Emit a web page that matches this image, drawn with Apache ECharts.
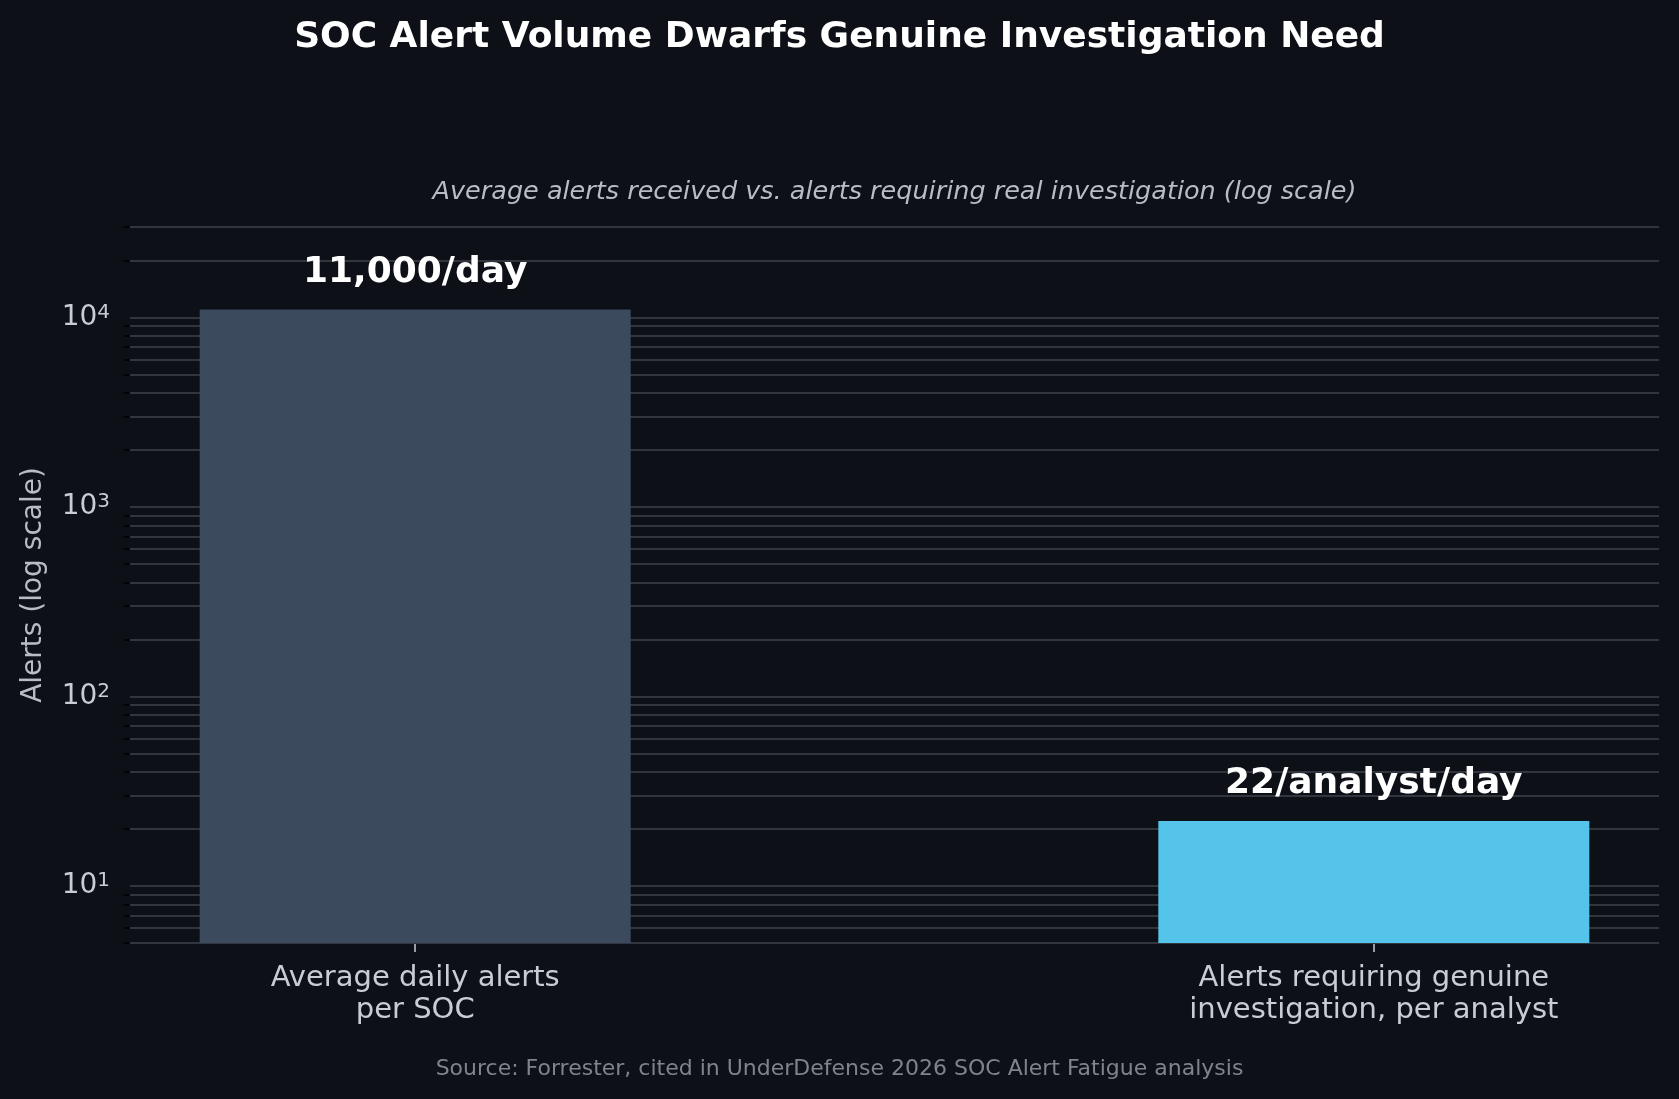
<!DOCTYPE html>
<html>
<head>
<meta charset="utf-8">
<title>SOC Alert Volume</title>
<script src="https://cdn.jsdelivr.net/npm/echarts@6/dist/echarts.min.js"></script>
<style>
  html, body { margin: 0; padding: 0; background: #0d1017; }
  #chart { width: 1679px; height: 1099px; }
</style>
</head>
<body>
<div id="chart"></div>
<script>
const categories = ['Average daily alerts\nper SOC', 'Alerts requiring genuine\ninvestigation, per analyst'];
const values = [11000, 22];
const valueLabels = ['11,000/day', '22/analyst/day'];
const barColors = ['#3b4a5d', '#55c4eb'];

const majorTicks = [10, 100, 1000, 10000];
const gridValues = [
  5, 6, 7, 8, 9, 10,
  20, 30, 40, 50, 60, 70, 80, 90, 100,
  200, 300, 400, 500, 600, 700, 800, 900, 1000,
  2000, 3000, 4000, 5000, 6000, 7000, 8000, 9000, 10000,
  20000, 30000
];

const font = 'DejaVu Sans';

let chart = echarts.init(document.getElementById('chart'));

const option = {
  backgroundColor: '#0d1017',
  animation: false,
  title: {
    text: 'SOC Alert Volume Dwarfs Genuine Investigation Need',
    left: 'center',
    top: 15,
    textStyle: { color: '#ffffff', fontFamily: font, fontSize: 36, fontWeight: 'bold' }
  },
  graphic: [
    {
      type: 'text',
      x: 894.5, y: 192,
      style: {
        text: 'Average alerts received vs. alerts requiring real investigation (log scale)',
        fill: '#b8bcc4', font: 'italic 25.5px "DejaVu Sans"',
        textAlign: 'center', textVerticalAlign: 'middle'
      }
    },
    {
      type: 'text',
      x: 839.5, y: 1069,
      style: {
        text: 'Source: Forrester, cited in UnderDefense 2026 SOC Alert Fatigue analysis',
        fill: '#7f838c', font: '22px "DejaVu Sans"',
        textAlign: 'center', textVerticalAlign: 'middle'
      }
    }
  ],
  grid: { left: 130, right: 20, top: 227, bottom: 156 },
  xAxis: {
    type: 'value',
    min: -0.2975,
    max: 1.2975,
    axisLine: { show: false },
    splitLine: { show: false },
    axisTick: { show: true, customValues: [0, 1], length: 9, lineStyle: { color: '#c8ccd4', width: 1.5 } },
    axisLabel: {
      customValues: [0, 1],
      formatter: v => categories[Math.round(v)],
      color: '#c8ccd4', fontFamily: font, fontSize: 29, lineHeight: 32, margin: 19
    }
  },
  yAxis: [
    {
      type: 'log',
      logBase: 10,
      min: 5,
      max: 30000,
      name: 'Alerts (log scale)',
      nameLocation: 'middle',
      nameGap: 82,
      nameTextStyle: { color: '#b8bcc4', fontFamily: font, fontSize: 28 },
      axisLine: { show: false },
      splitLine: { show: false },
      axisTick: { show: true, customValues: majorTicks, length: 10, lineStyle: { color: '#c8ccd4', width: 1.5 } },
      axisLabel: {
        customValues: majorTicks,
        formatter: v => '{b|10}{s|' + Math.round(Math.log10(v)) + '}',
        margin: 20,
        rich: {
          b: { color: '#c8ccd4', fontFamily: font, fontSize: 28, lineHeight: 30 },
          s: { color: '#c8ccd4', fontFamily: font, fontSize: 20, lineHeight: 18, verticalAlign: 'top' }
        }
      }
    },
    {
      type: 'log',
      logBase: 10,
      min: 5,
      max: 30000,
      position: 'left',
      axisLine: { show: false },
      splitLine: { show: false },
      axisLabel: { show: false },
      axisTick: {
        show: true,
        customValues: gridValues.filter(v => majorTicks.indexOf(v) < 0),
        length: 6,
        lineStyle: { color: '#000000', width: 1.5 }
      }
    }
  ],
  series: [
    {
      type: 'line',
      data: [],
      z: 1,
      silent: true,
      markLine: {
        z: 1,
        silent: true,
        symbol: ['none', 'none'],
        label: { show: false },
        lineStyle: { color: '#31353e', width: 1.8, type: 'solid' },
        data: gridValues.map(v => ({ yAxis: v }))
      }
    },
    {
      type: 'bar',
      z: 3,
      barWidth: 431,
      clip: true,
      data: values.map((v, i) => ({ value: [i, v], itemStyle: { color: barColors[i], borderWidth: 0 } })),
      label: {
        show: true,
        position: 'top',
        distance: 19,
        formatter: p => valueLabels[p.dataIndex],
        color: '#ffffff',
        fontFamily: font,
        fontSize: 36,
        fontWeight: 'bold'
      }
    }
  ]
};

chart.setOption(option);
</script>
</body>
</html>
